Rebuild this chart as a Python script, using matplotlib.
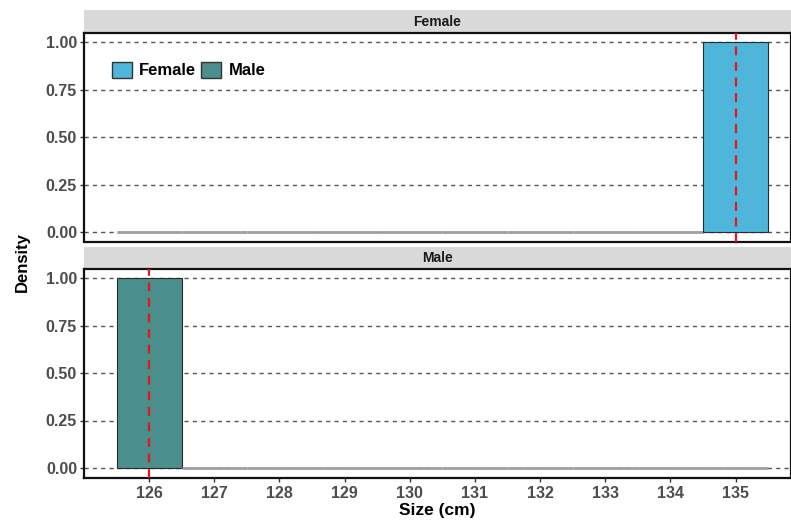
import numpy as np
import matplotlib
matplotlib.use("Agg")
import matplotlib.pyplot as plt
from matplotlib.patches import Patch

plt.rcParams['font.family'] = ['Liberation Sans', 'DejaVu Sans']

# data
groups = ["Female", "Male"]
sizes = {"Female": [135], "Male": [126]}
colors = {"Female": "#4DB6DA", "Male": "#4A8F8C"}
bin_edges = np.arange(125.5, 136.5, 1.0)
x_ticks = list(range(126, 136))
y_ticks = [0.0, 0.25, 0.5, 0.75, 1.0]

fig = plt.figure(figsize=(7.91, 5.27), dpi=100)

W, H = 791, 527
def px_axes(x0, y0, x1, y1):
    return fig.add_axes([x0 / W, (H - y1) / H, (x1 - x0) / W, (y1 - y0) / H])

panels = [(10, 33, 241.5), (247, 268.5, 477.5)]
axes = []
for g, (s0, p0, p1) in zip(groups, panels):
    strip = px_axes(84, s0, 791, p0)
    strip.set_facecolor("#D9D9D9")
    strip.set_xticks([])
    strip.set_yticks([])
    for sp in strip.spines.values():
        sp.set_visible(False)
    strip.text(0.5, 0.5, g, ha="center", va="center", fontsize=10,
               fontweight="bold", color="#1A1A1A", transform=strip.transAxes)

    ax = px_axes(84, p0, 791, p1)
    axes.append(ax)
    for y in y_ticks:
        ax.axhline(y, color="#555555", lw=1.0, ls=(0, (3, 3)), zorder=0)
    counts, _, patches = ax.hist(sizes[g], bins=bin_edges, density=True,
                                 color=colors[g], edgecolor="#2B2B2B",
                                 linewidth=0.8, zorder=2)
    for c, p in zip(counts, patches):
        if c == 0:
            p.set_edgecolor("#A0A0A0")
            p.set_linewidth(2.0)
    ax.axvline(np.mean(sizes[g]), color="#E8141B", lw=1.6,
               ls=(0, (4, 3)), zorder=3)
    ax.set_xlim(125.0, 135.85)
    ax.set_ylim(-0.05, 1.05)
    ax.set_yticks(y_ticks)
    ax.set_yticklabels([f"{v:.2f}" for v in y_ticks])
    ax.tick_params(axis="y", length=3, width=1, color="#333333", pad=2,
                   labelsize=11.5, labelcolor="#4D4D4D")
    for lab in ax.get_yticklabels():
        lab.set_fontweight("bold")
    for sp in ax.spines.values():
        sp.set_color("#111111")
        sp.set_linewidth(1.6)

axes[0].set_xticks([])
axes[1].set_xticks(x_ticks)
axes[1].tick_params(axis="x", length=3, width=1, color="#333333", pad=3,
                    labelsize=11.5, labelcolor="#4D4D4D")
for lab in axes[1].get_xticklabels():
    lab.set_fontweight("bold")

handles = [Patch(facecolor=colors[g], edgecolor="#333333", label=g) for g in groups]
axes[0].legend(handles=handles, loc="upper left", bbox_to_anchor=(0.018, 0.935),
               ncol=2, frameon=False, handlelength=1.2, handleheight=1.1,
               handletextpad=0.45, columnspacing=0.3,
               prop={"weight": "bold", "size": 12})

fig.text(22 / W, 1 - 262 / H, "Density", rotation=90, ha="center", va="center",
         fontsize=12, fontweight="bold")
fig.text(437 / W, 1 - 510 / H, "Size (cm)", ha="center", va="center",
         fontsize=12.5, fontweight="bold")

fig.savefig("out.png", dpi=100)
